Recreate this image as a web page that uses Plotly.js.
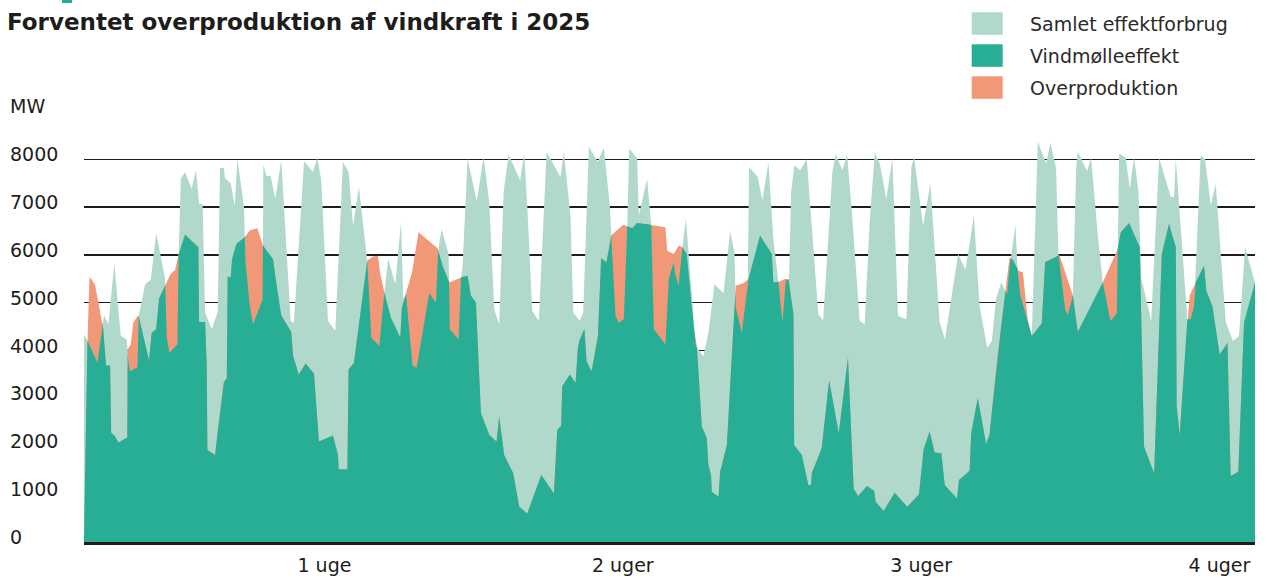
<!DOCTYPE html>
<html>
<head>
<meta charset="utf-8">
<script src="https://cdn.plot.ly/plotly-3.0.1.min.js"></script>
<style>html,body{margin:0;padding:0;background:#fff;}#chart{width:1267px;height:579px;}</style>
</head>
<body>
<div id="chart"></div>
<script>
// ---- Data (hours since start of period, MW) ----
const consumptionHours = [32.6,35.1,40.2,43.2,43.9,46.3,49.7,53.3,56.7,57.6,58.5,62.7,63.4,67.0,70.2,73.2,78.2,79.2,80.7,85.2,85.9,87.1,89.5,93.2,95.7,97.4,99.4,100.8,104.5,107.9,109.2,111.4,112.0,
115.2,117.5,119.0,120.8,122.7,123.5,125.3,127.8,133.2,133.6,135.3,137.7,140.3,143.7,149.0,150.8,156.5,161.5,164.0,166.2,170.0,174.1,178.4,181.6,184.1,187.4,192.1,194.4,198.1,
198.9,201.7,203.9,207.9,211.1,212.4,213.9,217.6,219.9,227.0,230.8,231.9,234.0,237.9,238.6,243.5,244.8,245.8,248.6,253.8,257.6,260.8,263.6,266.4,268.9,271.7,278.2,280.5,
282.2,285.0,288.7,293.1,300.9,302.8,306.6,308.1,311.8,313.7,316.9,321.9,325.3,328.7,329.5,331.9,333.8,336.6,338.5,339.6,344.1,345.0,349.7,352.0,353.5,360.0,361.9,364.7,
365.5,367.4,369.6,371.5,373.0,377.1,381.4,384.2,387.6,392.7,396.4,398.9,399.6,403.0,406.4,407.1,412.0,414.6,418.0,420.8,423.6,425.9,427.8,429.6,430.8,432.6,435.8,439.6,442.4,446.1,448.0,
448.8,454.0,455.9,459.7,462.3,465.3,469.4,472.2,475.0,477.9,480.7,484.4,487.8,491.0,495.7,498.5,500.0,505.1,509.2,514.4,517.4,524.8,528.9,531.3,
533.7,536.9,541.2,543.8,546.2,549.1,552.4,553.9,557.1,558.4,559.9,564.1,566.3,569.7,574.4,576.8,580.0,581.3,585.1,586.6,589.4,591.3,592.2,597.5,599.7,603.5,606.3,608.2,610.6,613.8,
614.2,615.5,619.2,621.5,623.9,626.4,627.1,628.0,632.4,633.5,638.0,644.6,646.4,647.4,653.9,655.8,657.7,661.4,663.9,667.1,669.9,675.5,679.6,683.0,686.4,690.5,692.0];
const consumptionMW = [4340,4165,3745,4570,4740,4550,5810,4305,4235,3760,3570,3655,4725,5390,5480,6455,5530,4270,3955,4130,5985,7595,7735,7385,7770,7070,7056,4795,4445,4810,7820,7820,7610,
7500,7035,8000,7525,7000,5880,5075,4550,5075,7890,7650,7650,7175,7980,4620,4585,7960,7735,8030,7560,4620,4410,7945,7735,6615,7420,5880,4270,4130,
4095,5215,5915,5390,6685,5075,5180,3690,3640,5200,5005,6055,6545,6020,4445,4235,5495,5775,8015,7120,8050,7105,4865,4550,7315,8100,7560,8120,
7035,4830,4620,8155,7630,8170,6790,4795,4620,4795,8260,7945,8240,7035,6370,4725,4585,4655,6580,8225,8015,6825,7595,6630,4445,4130,5495,5845,
5600,5355,6160,6755,6055,4095,3885,4375,5390,5200,6490,6055,4900,4375,5425,7840,7630,7140,7930,6335,5440,4600,5460,5495,7315,7875,7770,8000,6615,4760,4670,
4620,7735,8100,7770,8100,6755,4620,4550,6685,8140,7910,7175,8015,4725,4655,7840,8050,6615,7490,4600,4235,6020,5690,6230,
6825,4935,4060,4200,5090,5425,5180,5775,6630,5635,5145,4620,4305,8365,7910,8350,7805,6020,4865,4740,5145,7805,8155,7750,8030,6405,5425,5075,4620,4760,
4795,8120,8030,7385,8050,7315,6300,5500,4830,4600,8030,7210,7210,8015,4655,4655,4935,8085,8000,7035,7490,4600,4200,4305,6160,5635,5425];

const windHours = [32.6,34.5,35.7,38.8,42.6,43.2,45.0,47.3,47.9,50.1,52.0,57.0,57.2,58.9,60.4,62.7,63.4,66.0,69.2,70.7,73.2,74.9,78.6,81.4,83.9,85.7,89.5,97.0,97.4,100.8,101.7,102.1,106.4,111.1,113.0,113.5,115.2,
116.0,118.4,123.1,125.9,130.2,133.4,139.0,143.3,149.3,150.3,153.5,157.4,162.1,164.9,172.8,175.6,176.0,180.9,181.6,184.6,192.1,195.3,198.1,
199.3,201.7,205.4,210.7,211.6,213.9,217.3,221.0,231.7,234.5,238.3,244.8,248.6,250.5,253.3,256.1,260.8,264.9,266.4,269.2,274.3,277.7,281.4,
282.2,290.1,297.2,299.1,301.3,301.9,306.2,309.4,310.7,311.8,314.4,315.6,318.4,322.0,323.8,326.8,329.5,336.2,338.5,341.3,344.1,352.0,360.0,361.0,364.7,
367.4,369.6,372.0,375.8,377.7,380.5,383.3,384.2,385.7,386.1,389.9,390.8,394.6,398.9,399.6,403.9,406.8,413.3,419.9,420.8,424.0,427.4,429.3,432.1,432.5,436.8,440.5,442.0,442.4,448.0,
452.2,457.6,462.8,466.0,468.5,473.5,477.5,478.4,482.9,489.1,496.2,502.8,505.4,508.8,511.6,515.4,517.3,524.2,525.3,531.3,
532.2,535.9,540.6,542.5,546.8,553.8,555.6,558.8,561.3,564.1,566.3,571.9,573.8,581.9,589.4,592.2,606.3,614.7,
616.4,621.1,627.1,629.5,635.2,639.5,643.6,647.4,647.9,649.6,653.9,655.2,658.6,663.3,664.6,668.0,672.1,676.5,678.3,682.6,685.8,692.0];
const windMW = [0,4130,5545,5375,4620,4550,3690,3690,2290,2205,2080,2185,4025,4130,4585,4725,4725,4305,3795,4375,4445,5090,5390,5600,5685,5985,6425,6160,4600,4600,3690,1925,1820,3325,3430,5550,5530,
5915,6230,6370,6510,6560,6195,5915,4760,4390,3900,3500,3730,3520,2100,2225,1820,1520,1520,3605,3745,5880,5970,5985,
5635,5215,4690,4270,4900,5180,5635,6475,6140,5775,5425,5530,5565,5145,5005,2695,2240,2100,2625,1820,1435,735,610,
595,1400,1015,2345,2430,3255,3500,3325,4060,4235,4460,3780,3570,4305,5930,5845,6405,6630,6600,6560,6670,6630,6580,6090,6020,
6195,6160,6020,4515,4095,2415,2170,1610,1400,1050,945,1470,2030,4900,5355,5410,5495,6405,6020,5425,5440,5495,5495,4760,2030,1820,1190,1190,1435,1960,
3380,2275,3850,1120,960,1170,1070,840,650,1030,735,1000,1940,2310,1870,1855,1190,910,1295,1490,
2275,3010,2050,2240,3815,5950,5900,5670,5635,4620,4305,4565,5845,6000,5160,4390,5425,6125,
6475,6670,6160,1995,1435,6020,6650,6160,2835,2240,4655,5160,5425,5775,5250,4935,3920,4165,1380,1470,4585,5425];

const weekTicks = [168, 336, 504, 672];
const weekLabels = ['1 uge', '2 uger', '3 uger', '4 uger'];
const yTicks = [0,1000,2000,3000,4000,5000,6000,7000,8000];
const seriesNames = ['Samlet effektforbrug', 'Vindmølleeffekt', 'Overproduktion'];

// ---- Colours / geometry ----
const COL_CONS = '#b1d9cb', COL_WIND = '#27ae95', COL_OVER = '#f19878', INK = '#1d1d1b';
const FONT = 'DejaVu Sans';
const L = 84, R = 1255, T = 121, B = 542, WIDTH = 1267, HEIGHT = 579;
const px2x = p => (p - L) / (R - L);
const py2y = p => (B - p) / (B - T);

// wind covered by consumption = min(consumption, wind), with crossings inserted
function interp(xs, ys, x) {
  if (x <= xs[0]) return ys[0];
  if (x >= xs[xs.length - 1]) return ys[ys.length - 1];
  let i = 1; while (xs[i] < x) i++;
  const t = (x - xs[i - 1]) / (xs[i] - xs[i - 1]);
  return ys[i - 1] + t * (ys[i] - ys[i - 1]);
}
const grid = Array.from(new Set(consumptionHours.concat(windHours))).sort((a, b) => a - b);
const minX = [], minY = [];
for (let k = 0; k < grid.length; k++) {
  const x = grid[k];
  const c = interp(consumptionHours, consumptionMW, x), w = interp(windHours, windMW, x);
  if (k > 0) {
    const xp = grid[k - 1];
    const cp = interp(consumptionHours, consumptionMW, xp), wp = interp(windHours, windMW, xp);
    const d0 = cp - wp, d1 = c - w;
    if (d0 * d1 < 0) {
      const t = d0 / (d0 - d1);
      const xc = xp + t * (x - xp);
      minX.push(xc); minY.push(cp + t * (c - cp));
    }
  }
  minX.push(x); minY.push(Math.min(c, w));
}

const traces = [
  {x: consumptionHours, y: consumptionMW, name: seriesNames[0], type: 'scatter', mode: 'lines',
   fill: 'tozeroy', fillcolor: COL_CONS, line: {width: 0, color: COL_CONS}, hoverinfo: 'skip'},
  {x: windHours, y: windMW, name: seriesNames[2], type: 'scatter', mode: 'lines',
   fill: 'tozeroy', fillcolor: COL_OVER, line: {width: 0, color: COL_OVER}, hoverinfo: 'skip'},
  {x: minX, y: minY, name: seriesNames[1], type: 'scatter', mode: 'lines',
   fill: 'tozeroy', fillcolor: COL_WIND, line: {width: 0, color: COL_WIND}, hoverinfo: 'skip'}
];

const annotations = yTicks.map(v => ({
  text: String(v), x: px2x(8), xref: 'paper', xanchor: 'left', y: v, yref: 'y', yanchor: 'middle',
  yshift: 5, showarrow: false, font: {family: FONT, size: 19, color: INK}
}));
annotations.push({text: 'MW', x: px2x(8), xref: 'paper', xanchor: 'left', y: py2y(106), yref: 'paper',
  yanchor: 'middle', showarrow: false, font: {family: FONT, size: 19, color: INK}});

const legendCols = [COL_CONS, COL_WIND, COL_OVER];
const legendTop = [12.3, 44.3, 76.3];
const shapes = [];
legendTop.forEach((top, i) => {
  shapes.push({type: 'rect', xref: 'paper', yref: 'paper', x0: px2x(971.7), x1: px2x(1002.7),
    y0: py2y(top + 22.5), y1: py2y(top), fillcolor: legendCols[i], line: {width: 0}, layer: 'above'});
  annotations.push({text: seriesNames[i], x: px2x(1028), xref: 'paper', xanchor: 'left',
    y: py2y(top + 11.5), yref: 'paper', yanchor: 'middle', showarrow: false,
    font: {family: FONT, size: 19, color: '#2a2a2a'}});
});
// small cut-off mark at the very top left
shapes.push({type: 'rect', xref: 'paper', yref: 'paper', x0: px2x(62), x1: px2x(72), y0: py2y(3), y1: py2y(0),
  fillcolor: '#1fae96', line: {width: 0}, layer: 'above'});

const layout = {
  width: WIDTH, height: HEIGHT,
  margin: {l: L, r: WIDTH - R, t: T, b: HEIGHT - B, pad: 0},
  paper_bgcolor: '#ffffff', plot_bgcolor: '#ffffff',
  showlegend: false,
  title: {text: '<b>Forventet overproduktion af vindkraft i 2025</b>', xref: 'container', x: 7 / WIDTH, xanchor: 'left',
    yref: 'container', y: 1 - 22 / HEIGHT, yanchor: 'middle', font: {family: FONT, size: 23, color: INK}},
  xaxis: {range: [32.6, 692.0], tickvals: weekTicks, ticktext: weekLabels, showgrid: false, zeroline: false,
    showline: true, linecolor: INK, linewidth: 3, ticks: '', layer: 'above traces', ticklabelstandoff: 4,
    tickfont: {family: FONT, size: 19, color: INK}, fixedrange: true},
  yaxis: {range: [0, 8800], tick0: 0, dtick: 1000, showgrid: true, gridcolor: INK, gridwidth: 1.3,
    showticklabels: false, zeroline: false, showline: false, ticks: '', fixedrange: true},
  shapes: shapes,
  annotations: annotations
};

Plotly.newPlot('chart', traces, layout, {displayModeBar: false, staticPlot: true});
</script>
</body>
</html>
